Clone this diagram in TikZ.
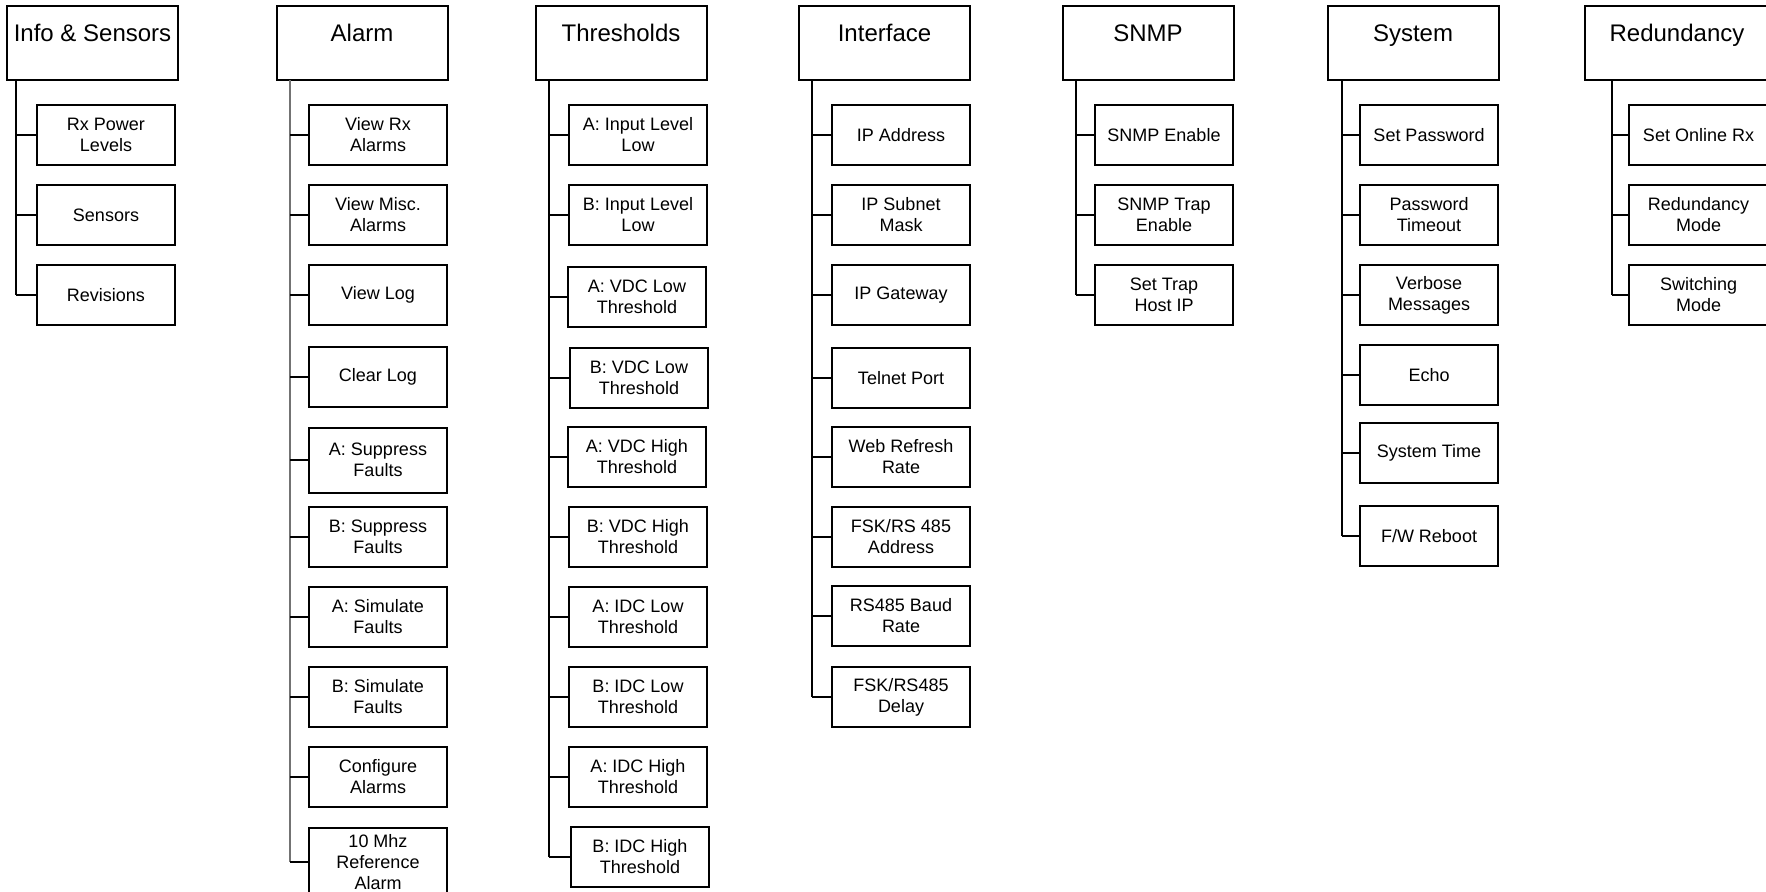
\documentclass[tikz,border=0pt]{standalone}
\usepackage{fontspec}
\setmainfont{Liberation Sans}

\tikzset{
  menu/.style={draw, line width=1pt, minimum width=85.5pt, minimum height=37pt,
    text height=8pt, text depth=9.6pt, font=\fontsize{12}{14}\selectfont},
  item/.style={draw, line width=1pt, minimum width=69pt, minimum height=30pt,
    align=center, font=\fontsize{9}{10.5}\selectfont},
  trunk/.style={line width=0.8pt},
  branch/.style={line width=1pt}
}

\begin{document}
\begin{tikzpicture}[x=0.5pt, y=-0.5pt]
    \useasboundingbox (0,0) rectangle (1766,891);

    % Info & Sensors
    \node[menu] (info) at (92.5,43) {Info \& Sensors};
    \node[item] (rxpow) at (106,135) {Rx Power\\Levels};
    \node[item] (sens) at (106,215) {Sensors};
    \node[item] (revs) at (106,295) {Revisions};
    \coordinate (infoT) at (16,80);
    \draw[trunk] (infoT) -- (infoT |- revs.west);
    \draw[branch] (infoT |- rxpow.west) -- (rxpow.west)
        (infoT |- sens.west) -- (sens.west)
        (infoT |- revs.west) -- (revs.west);

    % Alarm
    \node[menu] (alarm) at (362,43) {Alarm};
    \node[item] (vrx) at (378,135) {View Rx\\Alarms};
    \node[item] (vmisc) at (378,215) {View Misc.\\Alarms};
    \node[item] (vlog) at (378,295) {View Log};
    \node[item] (clog) at (378,377) {Clear Log};
    \node[item, minimum height=32.5pt] (asup) at (378,460) {A: Suppress\\Faults};
    \node[item] (bsup) at (378,537) {B: Suppress\\Faults};
    \node[item] (asim) at (378,617) {A: Simulate\\Faults};
    \node[item] (bsim) at (378,697) {B: Simulate\\Faults};
    \node[item] (cfg) at (378,777) {Configure\\Alarms};
    \node[item, anchor=north] (ref10) at (378,827) {10 Mhz\\Reference\\Alarm};
    \coordinate (alarmT) at (290,80);
    \draw[trunk, black!55] (alarmT) -- (alarmT |- ref10.west);
    \draw[branch] (alarmT |- vrx.west) -- (vrx.west)
        (alarmT |- vmisc.west) -- (vmisc.west)
        (alarmT |- vlog.west) -- (vlog.west)
        (alarmT |- clog.west) -- (clog.west)
        (alarmT |- asup.west) -- (asup.west)
        (alarmT |- bsup.west) -- (bsup.west)
        (alarmT |- asim.west) -- (asim.west)
        (alarmT |- bsim.west) -- (bsim.west)
        (alarmT |- cfg.west) -- (cfg.west)
        (alarmT |- ref10.west) -- (ref10.west);

    % Thresholds
    \node[menu] (thr) at (621,43) {Thresholds};
    \node[item] (ainl) at (638,135) {A: Input Level\\Low};
    \node[item] (binl) at (638,215) {B: Input Level\\Low};
    \node[item] (avlo) at (637,297) {A: VDC Low\\Threshold};
    \node[item] (bvlo) at (639,378) {B: VDC Low\\Threshold};
    \node[item] (avhi) at (637,457) {A: VDC High\\Threshold};
    \node[item] (bvhi) at (638,537) {B: VDC High\\Threshold};
    \node[item] (ailo) at (638,617) {A: IDC Low\\Threshold};
    \node[item] (bilo) at (638,697) {B: IDC Low\\Threshold};
    \node[item] (aihi) at (638,777) {A: IDC High\\Threshold};
    \node[item] (bihi) at (640,857) {B: IDC High\\Threshold};
    \coordinate (thrT) at (549,80);
    \draw[trunk] (thrT) -- (thrT |- bihi.west);
    \draw[branch] (thrT |- ainl.west) -- (ainl.west)
        (thrT |- binl.west) -- (binl.west)
        (thrT |- avlo.west) -- (avlo.west)
        (thrT |- bvlo.west) -- (bvlo.west)
        (thrT |- avhi.west) -- (avhi.west)
        (thrT |- bvhi.west) -- (bvhi.west)
        (thrT |- ailo.west) -- (ailo.west)
        (thrT |- bilo.west) -- (bilo.west)
        (thrT |- aihi.west) -- (aihi.west)
        (thrT |- bihi.west) -- (bihi.west);

    % Interface
    \node[menu] (intf) at (884.5,43) {Interface};
    \node[item] (ipa) at (901,135) {IP Address};
    \node[item] (ipm) at (901,215) {IP Subnet\\Mask};
    \node[item] (ipg) at (901,295) {IP Gateway};
    \node[item] (tel) at (901,378) {Telnet Port};
    \node[item] (web) at (901,457) {Web Refresh\\Rate};
    \node[item] (fska) at (901,537) {FSK/RS 485\\Address};
    \node[item] (baud) at (901,616) {RS485 Baud\\Rate};
    \node[item] (fskd) at (901,697) {FSK/RS485\\Delay};
    \coordinate (intfT) at (812,80);
    \draw[trunk] (intfT) -- (intfT |- fskd.west);
    \draw[branch] (intfT |- ipa.west) -- (ipa.west)
        (intfT |- ipm.west) -- (ipm.west)
        (intfT |- ipg.west) -- (ipg.west)
        (intfT |- tel.west) -- (tel.west)
        (intfT |- web.west) -- (web.west)
        (intfT |- fska.west) -- (fska.west)
        (intfT |- baud.west) -- (baud.west)
        (intfT |- fskd.west) -- (fskd.west);

    % SNMP
    \node[menu] (snmp) at (1148,43) {SNMP};
    \node[item] (sen) at (1164,135) {SNMP Enable};
    \node[item] (trap) at (1164,215) {SNMP Trap\\Enable};
    \node[item] (host) at (1164,295) {Set Trap\\Host IP};
    \coordinate (snmpT) at (1076,80);
    \draw[trunk] (snmpT) -- (snmpT |- host.west);
    \draw[branch] (snmpT |- sen.west) -- (sen.west)
        (snmpT |- trap.west) -- (trap.west)
        (snmpT |- host.west) -- (host.west);

    % System
    \node[menu] (sys) at (1413,43) {System};
    \node[item] (pwd) at (1429,135) {Set Password};
    \node[item] (pwto) at (1429,215) {Password\\Timeout};
    \node[item] (verb) at (1429,295) {Verbose\\Messages};
    \node[item] (echo) at (1429,375) {Echo};
    \node[item] (stime) at (1429,453) {System Time};
    \node[item] (fwr) at (1429,536) {F/W Reboot};
    \coordinate (sysT) at (1342,80);
    \draw[trunk] (sysT) -- (sysT |- fwr.west);
    \draw[branch] (sysT |- pwd.west) -- (pwd.west)
        (sysT |- pwto.west) -- (pwto.west)
        (sysT |- verb.west) -- (verb.west)
        (sysT |- echo.west) -- (echo.west)
        (sysT |- stime.west) -- (stime.west)
        (sysT |- fwr.west) -- (fwr.west);

    % Redundancy
    \node[menu, minimum width=92pt] (red) at (1677,43) {Redundancy};
    \node[item, minimum width=69.5pt] (onl) at (1698.5,135) {Set Online Rx};
    \node[item, minimum width=69.5pt] (rmode) at (1698.5,215) {Redundancy\\Mode};
    \node[item, minimum width=69.5pt] (swm) at (1698.5,295) {Switching\\Mode};
    \coordinate (redT) at (1612,80);
    \draw[trunk] (redT) -- (redT |- swm.west);
    \draw[branch] (redT |- onl.west) -- (onl.west)
        (redT |- rmode.west) -- (rmode.west)
        (redT |- swm.west) -- (swm.west);
\end{tikzpicture}
\end{document}
